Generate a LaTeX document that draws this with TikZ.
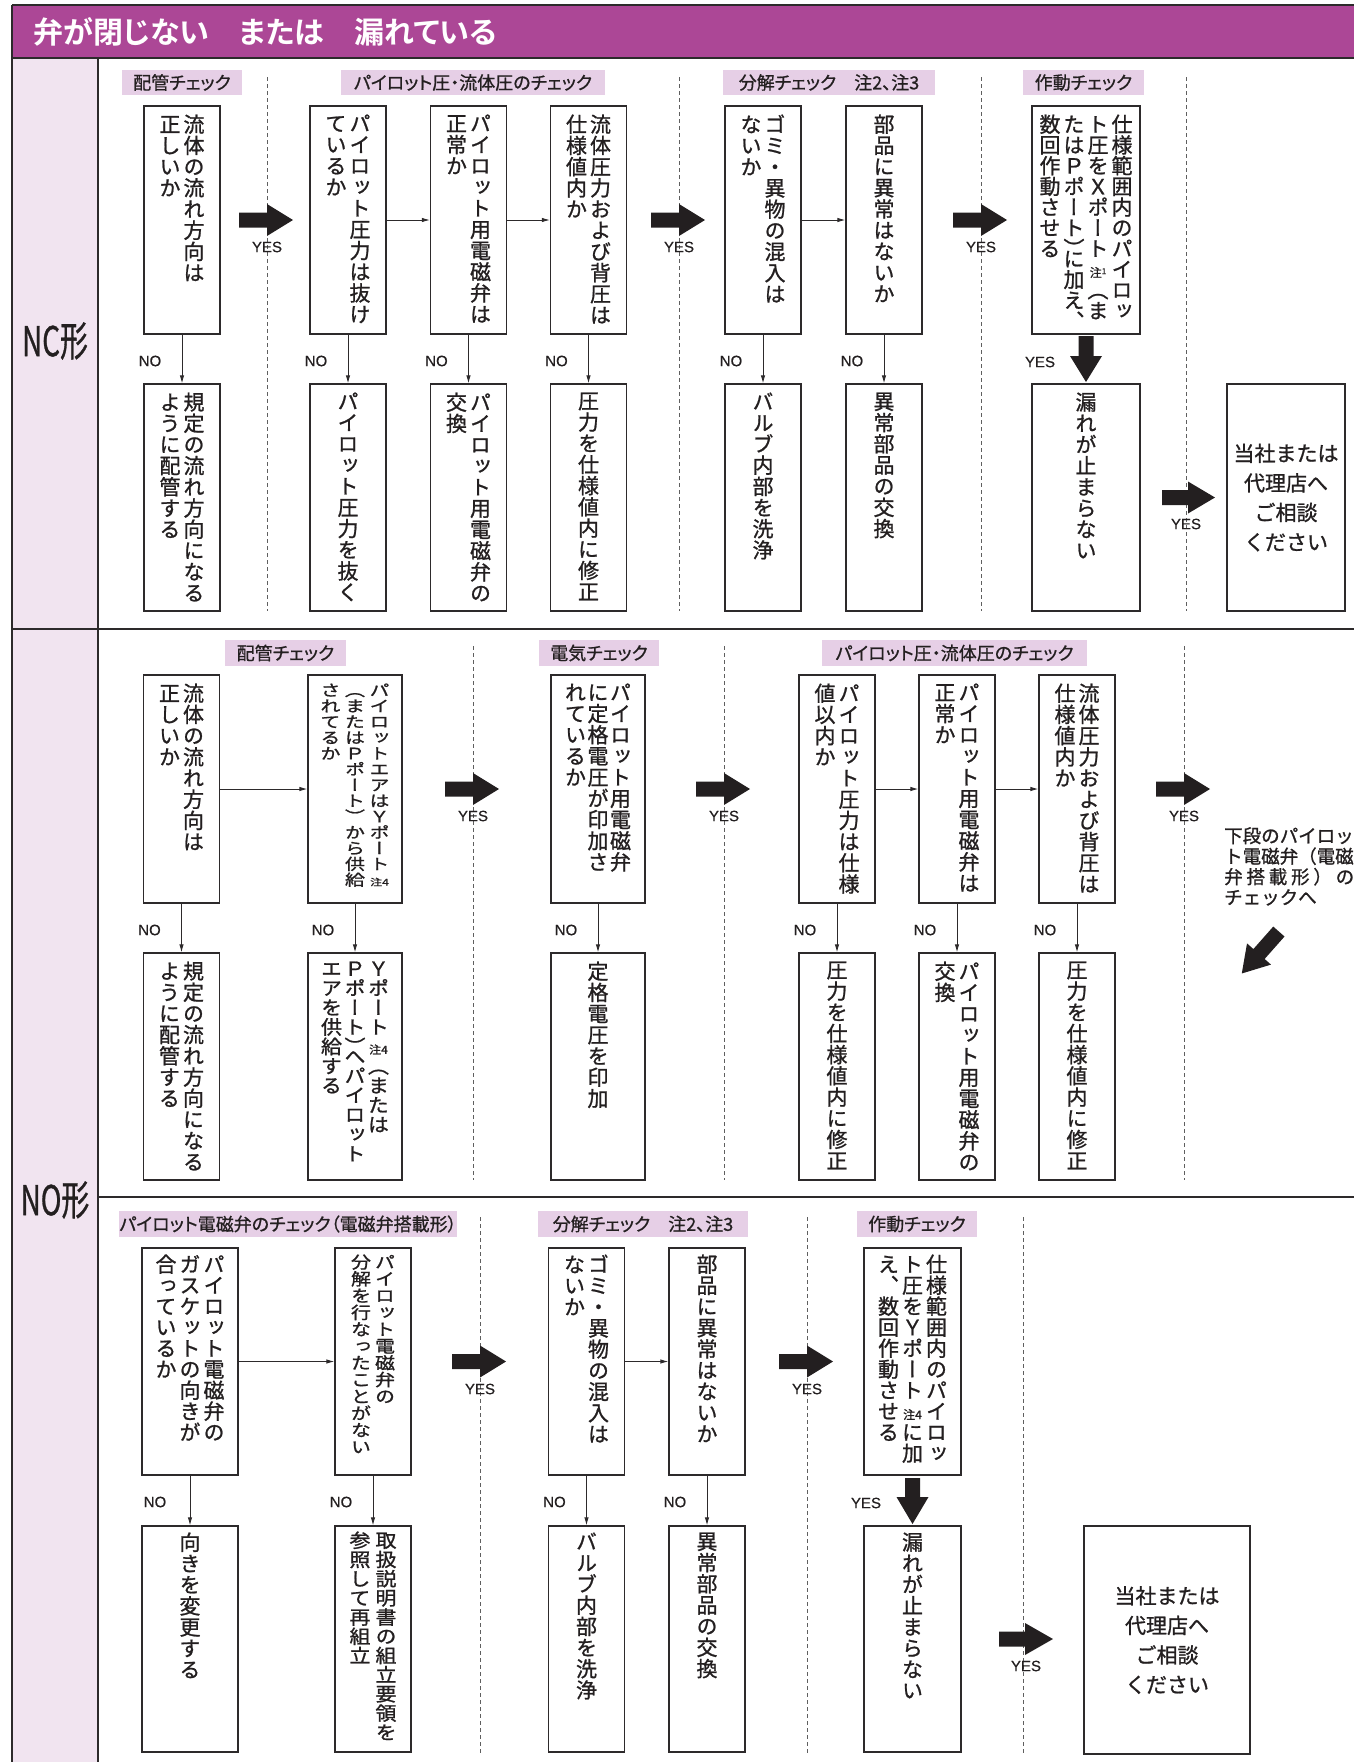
\documentclass[tikz,border=0pt]{standalone}
\usepackage{fontspec}
\usetikzlibrary{arrows.meta}
\newfontfamily\jp{Noto Sans CJK JP}[FakeBold=1]
\newfontfamily\jpv{Noto Sans CJK JP}[RawFeature=+vert,FakeBold=1]
\newfontfamily\jpp{Noto Sans CJK JP}[RawFeature=+palt,FakeBold=0.8]
\newfontfamily\jph{Noto Sans CJK JP Bold}[RawFeature=+palt]
\newfontfamily\lat{Liberation Sans}[FakeBold=0.4]
\definecolor{hdr}{RGB}{172,71,150}
\definecolor{leftc}{RGB}{241,228,240}
\definecolor{catc}{RGB}{230,207,230}
\definecolor{lc}{RGB}{45,42,43}
\definecolor{dc}{RGB}{95,95,95}
\definecolor{txt}{RGB}{35,31,32}
\newlength\vp \newlength\cgap
\def\vsc{1}
\def\vtend{\vtend}
\def\vtendm{\vtend}
\def\halfcell{\halfcell}
\def\halfm{\halfcell}
\def\vtloop#1{\def\vtarg{#1}%
  \ifx\vtarg\vtendm
  \else
    \ifx\vtarg\halfm \vskip-0.5\vp
    \else \hbox to 1em{\hss\scalebox{1}[\vsc]{#1}\hss}%
    \fi
    \expandafter\vtloop
  \fi}
\newcommand\vc[1]{\vtop{\baselineskip=\vp\lineskiplimit=-1000pt\lineskip=0pt\vtloop#1\vtend}}
\newcommand\VB[5][1]{\def\vsc{#1}\jpv\fontsize{#2pt}{#2pt}\selectfont\setlength\vp{#3pt}\setlength\cgap{\dimexpr#4pt-#2pt\relax}\hbox{#5}}
\newcommand\VBd[1]{\VB{21}{21.2}{24}{#1}}
\newcommand\cg{\hskip\cgap}
\newcommand\nt{\jp\fontsize{12pt}{12pt}\selectfont}
\newcommand\barrow[5]{\fill[txt,shift={(#1,#2)},rotate=#3] (-#4,-7.5) -- (0,-7.5) -- (0,-16) -- (#5,0) -- (0,16) -- (0,7.5) -- (-#4,7.5) -- cycle;}
\tikzset{
  box/.style={draw=lc,line width=1.3pt,fill=white,inner sep=0pt,minimum width=76pt},
  vt/.style={anchor=north,inner sep=0pt,text=txt},
  cat/.style={fill=catc,inner sep=0pt,minimum height=25.5pt,text=txt,font=\jpp\fontsize{18pt}{18pt}\selectfont},
  yn/.style={inner sep=0pt,text=txt,font=\lat\fontsize{15pt}{15pt}\selectfont},
  ta/.style={draw=lc,line width=0.9pt,-{Latex[length=8pt,width=4.5pt]}},
  dsh/.style={draw=dc,line width=0.9pt,dash pattern=on 4pt off 3pt},
  frm/.style={draw=lc,line width=1.5pt},
  consult/.style={align=center,inner sep=0pt,text=txt,font=\jp\fontsize{21pt}{29.6pt}\selectfont}
}
\begin{document}
\begin{tikzpicture}[x=1pt,y=-1pt]
\useasboundingbox (0,0) rectangle (1354,1762);
% frame
\fill[hdr] (12,5) rectangle (1354,58);
\fill[leftc] (12,58) rectangle (98,1762);
\draw[frm] (12,5) -- (1354,5);
\draw[frm] (12,5) -- (12,1762);
\draw[frm] (12,58) -- (1354,58);
\draw[frm] (98,58) -- (98,1762);
\draw[frm] (12,629) -- (1354,629);
\draw[frm] (98,1197) -- (1354,1197);
\node[anchor=west,inner sep=0pt,text=white,font=\jph\fontsize{30pt}{30pt}\selectfont] (title) at (33,31.5) {弁が閉じない\hspace{30pt}または\hspace{30pt}漏れている};
\node[inner sep=0pt,text=txt] (nc) at (55,341) {\scalebox{0.68}[1]{\jp\fontsize{41pt}{41pt}\selectfont NC形}};
\node[inner sep=0pt,text=txt] (no) at (55,1200) {\scalebox{0.68}[1]{\jp\fontsize{41pt}{41pt}\selectfont NO形}};

% ================= NC =================
\node[cat,minimum width=120pt] (c1) at (182,82.5) {配管チェック};
\node[cat,minimum width=264pt] (c2) at (473,82.5) {パイロット圧・流体圧のチェック};
\node[cat,minimum width=212pt] (c3) at (829,82.5) {分解チェック　注2、注3};
\node[cat,minimum width=121pt] (c4) at (1083.5,82.5) {作動チェック};
\foreach \x in {267,679,981,1186} \draw[dsh] (\x,77) -- (\x,611);

\node[box,minimum height=228pt] (b1) at (182,220) {};
\node[box,minimum height=228pt] (b2) at (348,220) {};
\node[box,minimum height=228pt] (b3) at (468.5,220) {};
\node[box,minimum height=228pt] (b4) at (588.5,220) {};
\node[box,minimum height=228pt] (b5) at (763,220) {};
\node[box,minimum height=228pt] (b6) at (884,220) {};
\node[box,minimum height=228pt,minimum width=108pt] (b7) at (1086,220) {};
\node[box,minimum height=227pt] (r1) at (182,497.5) {};
\node[box,minimum height=227pt] (r2) at (348,497.5) {};
\node[box,minimum height=227pt] (r3) at (468.5,497.5) {};
\node[box,minimum height=227pt] (r4) at (588.5,497.5) {};
\node[box,minimum height=227pt] (r5) at (763,497.5) {};
\node[box,minimum height=227pt] (r6) at (884,497.5) {};
\node[box,minimum height=227pt,minimum width=108pt] (r7) at (1086,497.5) {};
\node[box,minimum height=227pt,minimum width=118pt] (r8) at (1286,497.5) {};

\node[vt] (b1t) at ([yshift=-9pt]b1.north) {\VBd{\vc{正しいか}\cg\vc{流体の流れ方向は}}};
\node[vt] (b2t) at ([yshift=-9pt]b2.north) {\VBd{\vc{ているか}\cg\vc{パイロット圧力は抜け}}};
\node[vt] (b3t) at ([yshift=-9pt]b3.north) {\VBd{\vc{正常か}\cg\vc{パイロット用電磁弁は}}};
\node[vt] (b4t) at ([yshift=-9pt]b4.north) {\VBd{\vc{仕様値内か}\cg\vc{流体圧力および背圧は}}};
\node[vt] (b5t) at ([yshift=-9pt]b5.north) {\VBd{\vc{ないか}\cg\vc{ゴミ・異物の混入は}}};
\node[vt] (b6t) at ([yshift=-9pt]b6.north) {\VBd{\vc{部品に異常はないか}}};
\node[vt] (b7t) at ([yshift=-9pt]b7.north) {\VB{21}{20.7}{24}{\vc{数回作動させる}\cg\vc{たはＰポート）\halfcell に加え、}\cg\vc{ト圧をＸポート{\nt 注\raisebox{3pt}{\fontsize{8pt}{8pt}\selectfont 1}}（ま}\cg\vc{仕様範囲内のパイロッ}}};
\node[vt] (r1t) at ([yshift=-9pt]r1.north) {\VBd{\vc{ように配管する}\cg\vc{規定の流れ方向になる}}};
\node[vt] (r2t) at ([yshift=-9pt]r2.north) {\VBd{\vc{パイロット圧力を抜く}}};
\node[vt] (r3t) at ([yshift=-9pt]r3.north) {\VBd{\vc{交換}\cg\vc{パイロット用電磁弁の}}};
\node[vt] (r4t) at ([yshift=-9pt]r4.north) {\VBd{\vc{圧力を仕様値内に修正}}};
\node[vt] (r5t) at ([yshift=-9pt]r5.north) {\VBd{\vc{バルブ内部を洗浄}}};
\node[vt] (r6t) at ([yshift=-9pt]r6.north) {\VBd{\vc{異常部品の交換}}};
\node[vt] (r7t) at ([yshift=-9pt]r7.north) {\VBd{\vc{漏れが止まらない}}};
\node[consult] (r8t) at (r8.center) {当社または\\代理店へ\\ご相談\\ください};

\draw[ta] (b2.east) -- (b3.west);
\draw[ta] (b3.east) -- (b4.west);
\draw[ta] (b5.east) -- (b6.west);
\foreach \a/\b in {b1/r1,b2/r2,b3/r3,b4/r4,b5/r5,b6/r6} \draw[ta] (\a.south) -- (\b.north);
\node[yn] (nn1) at (150,361) {NO};
\node[yn] (nn2) at (316,361) {NO};
\node[yn] (nn3) at (436.5,361) {NO};
\node[yn] (nn4) at (556.5,361) {NO};
\node[yn] (nn5) at (731,361) {NO};
\node[yn] (nn6) at (852,361) {NO};
\barrow{267}{220}{0}{28}{26}
\barrow{679}{220}{0}{28}{26}
\barrow{981}{220}{0}{28}{26}
\barrow{1086}{356}{-90}{20}{26}
\barrow{1188}{497.5}{0}{26}{27}
\node[yn] (ny1) at (267,247) {YES};
\node[yn] (ny2) at (679,247) {YES};
\node[yn] (ny3) at (981,247) {YES};
\node[yn] (ny4) at (1040,362) {YES};
\node[yn] (ny5) at (1186,524) {YES};

% ================= NO upper =================
\node[cat,minimum width=121pt] (d1) at (285.5,653) {配管チェック};
\node[cat,minimum width=120pt] (d2) at (599,653) {電気チェック};
\node[cat,minimum width=265pt] (d3) at (954.5,653) {パイロット圧・流体圧のチェック};
\foreach \x in {473,724,1184} \draw[dsh] (\x,646) -- (\x,1180);

\node[box,minimum height=228pt] (u1) at (181.5,789) {};
\node[box,minimum height=228pt,minimum width=94pt] (u2) at (355,789) {};
\node[box,minimum height=228pt,minimum width=94pt] (u3) at (598,789) {};
\node[box,minimum height=228pt] (u4) at (837,789) {};
\node[box,minimum height=228pt] (u5) at (957,789) {};
\node[box,minimum height=228pt] (u6) at (1077,789) {};
\node[box,minimum height=227pt] (v1) at (181.5,1066.5) {};
\node[box,minimum height=227pt,minimum width=94pt] (v2) at (355,1066.5) {};
\node[box,minimum height=227pt,minimum width=94pt] (v3) at (598,1066.5) {};
\node[box,minimum height=227pt] (v4) at (837,1066.5) {};
\node[box,minimum height=227pt] (v5) at (957,1066.5) {};
\node[box,minimum height=227pt] (v6) at (1077,1066.5) {};

\node[vt] (u1t) at ([yshift=-9pt]u1.north) {\VBd{\vc{正しいか}\cg\vc{流体の流れ方向は}}};
\node[vt] (u2t) at ([yshift=-9pt]u2.north) {\VB[0.78]{20}{15.8}{24.5}{\vc{されてるか}\cg\vc{（またはＰポート）から供給}\cg\vc{パイロットエアはＹポート{\nt 注4}}}};
\node[vt] (u3t) at ([yshift=-9pt]u3.north) {\VB{21}{21.2}{22.5}{\vc{れているか}\cg\vc{に定格電圧が印加さ}\cg\vc{パイロット用電磁弁}}};
\node[vt] (u4t) at ([yshift=-9pt]u4.north) {\VBd{\vc{値以内か}\cg\vc{パイロット圧力は仕様}}};
\node[vt] (u5t) at ([yshift=-9pt]u5.north) {\VBd{\vc{正常か}\cg\vc{パイロット用電磁弁は}}};
\node[vt] (u6t) at ([yshift=-9pt]u6.north) {\VBd{\vc{仕様値内か}\cg\vc{流体圧力および背圧は}}};
\node[vt] (v1t) at ([yshift=-9pt]v1.north) {\VBd{\vc{ように配管する}\cg\vc{規定の流れ方向になる}}};
\node[vt] (v2t) at ([yshift=-9pt]v2.north) {\VB[0.92]{21}{19.5}{23.5}{\vc{エアを供給する}\cg\vc{Ｐポート）\halfcell へパイロット}\cg\vc{Ｙポート{\nt 注4}（または}}};
\node[vt] (v3t) at ([yshift=-9pt]v3.north) {\VBd{\vc{定格電圧を印加}}};
\node[vt] (v4t) at ([yshift=-9pt]v4.north) {\VBd{\vc{圧力を仕様値内に修正}}};
\node[vt] (v5t) at ([yshift=-9pt]v5.north) {\VBd{\vc{交換}\cg\vc{パイロット用電磁弁の}}};
\node[vt] (v6t) at ([yshift=-9pt]v6.north) {\VBd{\vc{圧力を仕様値内に修正}}};

\draw[ta] (u1.east) -- (u2.west);
\draw[ta] (u4.east) -- (u5.west);
\draw[ta] (u5.east) -- (u6.west);
\foreach \a/\b in {u1/v1,u2/v2,u3/v3,u4/v4,u5/v5,u6/v6} \draw[ta] (\a.south) -- (\b.north);
\node[yn] (mn1) at (149.5,930) {NO};
\node[yn] (mn2) at (323,930) {NO};
\node[yn] (mn3) at (566,930) {NO};
\node[yn] (mn4) at (805,930) {NO};
\node[yn] (mn5) at (925,930) {NO};
\node[yn] (mn6) at (1045,930) {NO};
\barrow{473}{789}{0}{28}{26}
\barrow{724}{789}{0}{28}{26}
\barrow{1184}{789}{0}{28}{26}
\node[yn] (my1) at (473,816) {YES};
\node[yn] (my2) at (724,816) {YES};
\node[yn] (my3) at (1184,816) {YES};
\node[anchor=north west,inner sep=0pt,text=txt,align=left,font=\jp\fontsize{18.5pt}{20.5pt}\selectfont] (nxt) at (1224,827) {下段のパイロッ\\ト電磁弁（電磁\\\makebox[130pt][s]{弁\hfill 搭\hfill 載\hfill 形\hfill ）\hfill の}\\チェックへ};
\barrow{1259}{954}{-131.5}{30}{26}

% ================= NO lower =================
\node[cat,minimum width=332pt] (e1) at (288,1224) {パイロット電磁弁のチェック（電磁弁搭載形）};
\node[cat,minimum width=210pt] (e2) at (643,1224) {分解チェック　注2、注3};
\node[cat,minimum width=120pt] (e3) at (917,1224) {作動チェック};
\foreach \x in {480,807,1023} \draw[dsh] (\x,1217) -- (\x,1754);

\node[box,minimum height=227pt,minimum width=96pt] (l1) at (190,1361.5) {};
\node[box,minimum height=227pt] (l2) at (373,1361.5) {};
\node[box,minimum height=227pt] (l3) at (586.5,1361.5) {};
\node[box,minimum height=227pt] (l4) at (707,1361.5) {};
\node[box,minimum height=227pt,minimum width=97pt] (l5) at (912.5,1361.5) {};
\node[box,minimum height=226pt,minimum width=96pt] (m1) at (190,1639) {};
\node[box,minimum height=226pt] (m2) at (373,1639) {};
\node[box,minimum height=226pt] (m3) at (586.5,1639) {};
\node[box,minimum height=226pt] (m4) at (707,1639) {};
\node[box,minimum height=226pt,minimum width=97pt] (m5) at (912.5,1639) {};
\node[box,minimum height=228pt,minimum width=166pt] (m6) at (1167,1640) {};

\node[vt] (l1t) at ([yshift=-7pt]l1.north) {\VB{21}{21}{24}{\vc{合っているか}\cg\vc{ガスケットの向きが}\cg\vc{パイロット電磁弁の}}};
\node[vt] (l2t) at ([yshift=-7pt]l2.north) {\VB[0.84]{20}{16.8}{24}{\vc{分解を行なったことがない}\cg\vc{パイロット電磁弁の}}};
\node[vt] (l3t) at ([yshift=-7pt]l3.north) {\VBd{\vc{ないか}\cg\vc{ゴミ・異物の混入は}}};
\node[vt] (l4t) at ([yshift=-7pt]l4.north) {\VBd{\vc{部品に異常はないか}}};
\node[vt] (l5t) at ([yshift=-7pt]l5.north) {\VB{21}{21}{24}{\vc{え、数回作動させる}\cg\vc{ト圧をＹポート{\nt 注4}に加}\cg\vc{仕様範囲内のパイロッ}}};
\node[vt] (m1t) at ([yshift=-7pt]m1.north) {\VBd{\vc{向きを変更する}}};
\node[vt] (m2t) at ([yshift=-6pt]m2.north) {\VB[0.9]{21}{19.2}{26}{\vc{参照して再組立}\cg\vc{取扱説明書の組立要領を}}};
\node[vt] (m3t) at ([yshift=-7pt]m3.north) {\VBd{\vc{バルブ内部を洗浄}}};
\node[vt] (m4t) at ([yshift=-7pt]m4.north) {\VBd{\vc{異常部品の交換}}};
\node[vt] (m5t) at ([yshift=-7pt]m5.north) {\VBd{\vc{漏れが止まらない}}};
\node[consult] (m6t) at (m6.center) {当社または\\代理店へ\\ご相談\\ください};

\draw[ta] (l1.east) -- (l2.west);
\draw[ta] (l3.east) -- (l4.west);
\foreach \a/\b in {l1/m1,l2/m2,l3/m3,l4/m4} \draw[ta] (\a.south) -- (\b.north);
\node[yn] (kn1) at (155,1502) {NO};
\node[yn] (kn2) at (341,1502) {NO};
\node[yn] (kn3) at (554.5,1502) {NO};
\node[yn] (kn4) at (675,1502) {NO};
\barrow{480}{1361.5}{0}{28}{26}
\barrow{807}{1361.5}{0}{28}{26}
\barrow{912.5}{1497}{-90}{19}{27}
\barrow{1025}{1639}{0}{26}{28}
\node[yn] (ky1) at (480,1389) {YES};
\node[yn] (ky2) at (807,1389) {YES};
\node[yn] (ky3) at (866,1503) {YES};
\node[yn] (ky4) at (1026,1666) {YES};
\end{tikzpicture}
\end{document}
